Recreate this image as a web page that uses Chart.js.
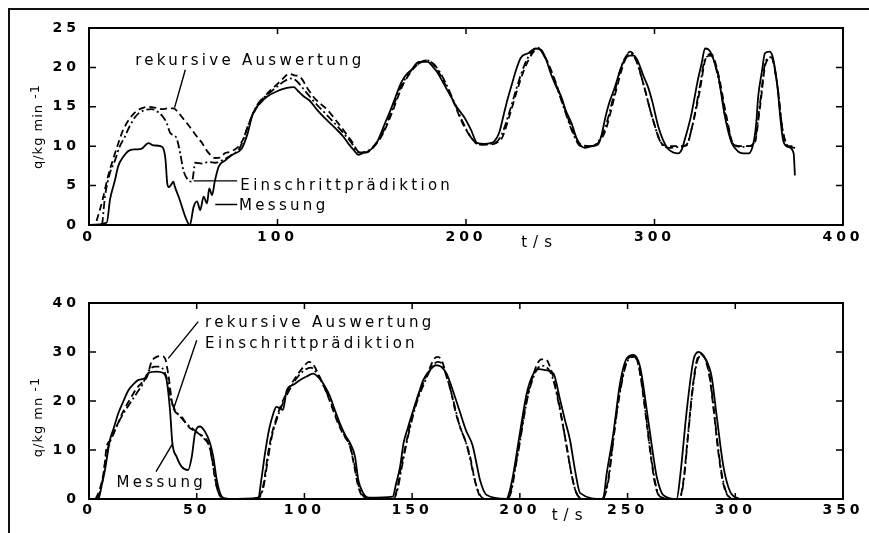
<!DOCTYPE html>
<html>
<head>
<meta charset="utf-8">
<script src="https://cdn.jsdelivr.net/npm/chart.js@4.4.1/dist/chart.umd.min.js"></script>
<style>
html,body{margin:0;padding:0;background:#fff;}
#wrap{position:relative;width:869px;height:533px;overflow:hidden;background:#fff;}
canvas{position:absolute;left:0;top:0;}
#frameTop{position:absolute;left:8px;top:8px;width:861px;height:2px;background:#111;}
#frameLeft{position:absolute;left:8px;top:8px;width:2px;height:525px;background:#111;}
</style>
</head>
<body>
<div id="wrap">
<canvas id="c1" width="869" height="533" style="width:869px;height:533px"></canvas>
<canvas id="c2" width="869" height="533" style="width:869px;height:533px"></canvas>
<div id="frameTop"></div><div id="frameLeft"></div>
</div>
<script>
// ---------- upper panel: t in s, q in kg/min ----------
const topXTicks = [0, 100, 200, 300, 400];
const topYTicks = [0, 5, 10, 15, 20, 25];

const topMessT = [0,9.4,11.2,13.8,15.4,18.3,21.8,25,28,31.5,34.2,38,40.5,41.5,42.3,43.5,44.8,45.5,48,51,53.5,55.5,57.3,59,60.8,62.6,63.8,65.3,66.7,68.8,72.3,76,81,84,87,91,94.5,100,105,108.7,110.5,114,117,121,125,128,131,135,138,140.5,143,145,147.7,151,153,155,157.5,160,163,165.5,168,171,175,179.6,182,185,188,192,195,199,202.6,206,210,213,215,217.6,220,222,224.5,226.6,229,233,237,240,242.5,245,248,250.5,253,256,259,263,267,270,272,273.6,276,279,282,284,287,289,291,294,296.6,299,302,304.5,307,310,312.6,314.5,316,318,319.7,321.5,323,325,326.8,328.5,330,332,334,335.5,337,339,341,344.5,347,350,352.5,354,355,357,358.6,361,362.5,364,365.5,366.5,368.4,371,373.8,374.5];
const topMessQ = [0,0.3,3.3,5.7,7.4,8.7,9.5,9.6,9.7,10.4,10.1,10,8.5,5.3,4.8,5.1,5.5,4.9,3.3,1.1,0,2.3,3,1.9,3.6,2.75,4.65,3.8,5.5,7.4,8.2,8.9,9.7,11.5,14.2,15.5,16.3,17,17.4,17.5,17.1,16.3,15.8,14.6,13.6,12.9,12.2,11.2,10.2,9.5,8.9,9.1,9.3,9.9,10.6,11.7,13.2,14.6,16.5,18,19,19.7,20.7,20.7,20.2,19.3,18,16.3,15,13.7,12.1,10.4,10.3,10.4,10.6,11.7,14,15.9,18,19.7,21.2,21.8,22.4,22.2,21,19.2,17.5,16.3,14.5,12.9,10.8,9.8,10,10.2,11.5,13.3,15.5,17.5,19.8,20.9,21.5,21.5,20.9,19,17.5,15.5,12.5,10.8,9.7,9.2,9.1,9.6,10.8,12.5,14.2,16.5,18.4,20.5,22.4,22.3,21.8,20.5,18.8,16.5,14.2,12,10.4,9.3,9.1,9.1,10.4,13,16.3,19.5,21.8,22,21.5,19.7,17,14.2,10.6,9.9,9.1,6.3];

const topEinT = [7,8.5,11,13.8,16,19,21.5,24.5,27,30,33.3,36.8,39,41.3,43,44.8,46.5,48.4,50,52.6,54.6,56.4,60,63.5,67,70.6,75,80,85,90,95,100,104,107,110,114,120,126,133,139,143,147,151,156,161,166,171,175,179,183,188,193,198,203,207,212,216,219,223,227,231,235,238,242,247,252,257,261,266,270,274,279,283,287,290,294,299,304,308,313,317,320,324,327,330,334,338,342,346,350,353,356,359,362,365,368,371,374.6];
const topEinQ = [0,3.6,6.5,8.2,9.8,11.2,12.5,13.7,14.3,14.6,14.7,14.3,13.8,12.9,11.7,11.4,11,9.1,7,5.7,5.5,7.9,7.8,8,7.9,8.2,8.8,9.8,13,15.5,16.6,17.6,18.3,18.6,18.3,17.2,15.5,14,12.2,10.5,9.2,9.3,10,11.8,14.8,17.8,19.6,20.5,20.9,20.4,18.6,16,13.2,11,10.2,10.3,10.5,11.5,14.3,17.5,20.3,22,22.5,21.2,18.3,14.8,11.5,10,10,10.5,12.5,17,20.5,21.8,21,18,13.5,10.2,9.8,9.9,10.2,12.5,17.5,21.2,21.5,18.5,13.5,10.2,9.9,10,10.5,15.5,20.8,21.3,18,12,10,9.8];

const topRekT = [4,7,10,13,15.6,18,21,24,26,29,31.5,35,38.6,42,44.8,47,49.3,52,54.6,57,60,62,64.4,67,70,72,75,79,82,85,90,95,100,103,106,109,112,116,120,126.5,133.5,140,143,147,151,156,161,166,171,175,179,183,188,193,198,203,207,212,216,219,223,227,231,235,238,242,247,252,257,261,266,270,274,279,283,287,290,294,299,304,308,313,317,320,324,327,330,334,338,342,346,350,353,356,359,362,365,368,371,374.6];
const topRekQ = [0.5,3,6.1,8.5,10.4,12,13.3,14.2,14.6,14.9,15,14.9,14.7,14.8,14.8,14.4,13.7,12.9,12.1,11.3,10.4,9.6,8.9,8.5,8.6,9.1,9.3,9.9,11,13,15.3,16.8,17.9,18.6,19.2,19,18.8,17.3,16,14.6,12.5,10.4,9.3,9.2,9.9,11.6,14.4,17.5,19.5,20.5,20.9,20.3,18.3,15.8,13,11,10.2,10.2,10.4,11,13.8,17,19.8,21.7,22.4,21.3,18.5,15,11.8,10.2,10,10.4,12,16.5,20,22,21.2,18,13.5,10.3,10,10,10.1,12.5,17,21,21.7,19,14,10.2,10,10,10.3,15,20.5,21.2,18,12,10,10];

// ---------- lower panel ----------
const botXTicks = [0, 50, 100, 150, 200, 250, 300, 350];
const botYTicks = [0, 10, 20, 30, 40];

const botMessT = [0,4.3,6,7.4,9.7,11.5,13.6,16,18.3,21,23,26,27.5,31.4,34.5,36,37.6,38.7,40.7,43,46,47.7,49.2,51.5,53.9,56.2,57.7,59.3,61.6,64,78.6,80,81.7,83.5,85.6,87,88.5,90,91.8,94.8,98,101,104,107,109.5,111.9,114,116.5,119,121.2,123.5,125,127.3,130,141,142.5,144.4,146,148,150.6,153,155.2,158.3,161,163.5,166,169,172,175,178,180,181.5,184.6,193.7,195.5,197,200,203.2,206.3,209,212,215.6,218.7,221,223.3,225.6,228,238.6,240.3,243.4,246.5,249.6,252.7,255.8,258.9,262,263.5,266.6,272.8,274.4,277.5,280.6,282.9,286,289,291.4,294.5,297.6,302];
const botMessQ = [0,0,3,5.9,12,14.5,17.5,20,22.2,23.6,24.3,24.7,25.7,26,25.7,24.3,18.2,11.4,8.6,6.6,5.9,8.6,13.4,14.8,13.7,11.4,8.6,3.9,0.5,0,0.3,4,9.3,14,17.5,18.8,18.5,18.2,22.2,23.3,24.3,25,25.6,24.6,23,20.9,18.3,15.4,13,11.4,8.6,3.9,1.2,0.3,0.5,3,6.6,11.4,14.5,18.2,21.5,24.3,26.3,27.3,27,25.6,22,18,14,11,7,3.9,0.8,0,2,5.2,13.4,21.6,25.6,26.5,26.3,25.6,20.2,16,12,5.9,1.2,0,5.2,13.4,23.6,28.7,29.4,27,18.2,8.6,4.6,0.8,0,4.6,18.2,28.4,30,28.7,25,16.8,6.6,1.5,0];

const botEinT = [4,6,8,10,13,16,19,22,25,27,29,31,33,35,36.5,38,39.5,42,45,49,53,56,57.5,59,61,65,76,
  79,81,83,85,87,89,91,94,97,100,103,106,109,112,115,118,121,123,125,127,130,
  141,143,145,147,149,152,155,158,160,162,164,166,168,170,172,175,177,179,181,184,190,
  194,196,198,200,202,204,206,208,210,212,214,216,218,220,222,224,226,229,238,
  239,241,243,245,247,249,251,253,255,257,259,261,263,265,270,
  274,276,278,280,282,284,286,288,290,292,294,296,299];
const botEinQ = [0,3,9,12,15,17.5,19.5,21.5,23.5,25.5,26.8,27,27,26,24,20.5,18.5,17,15.5,14,12.5,10.5,7,3,0.5,0,0,
  0.3,2.5,8,13,16,18.5,20.5,23,25,26.3,26.8,25.5,23,20,16.5,13.5,11,7.5,3,0.8,0,
  0,1.5,6,10.5,14.5,19.5,23,26,27.5,28,27.5,25,22,18.5,15,11.5,8,4,1.2,0,0,
  0,1.5,6.5,11.5,17,21.5,24.5,26.5,27.2,27,26,23.5,19.5,15,10,5,1.5,0,0,
  0.3,3.5,10.5,17.5,23,27,28.8,29,27.5,22.5,15.5,8.5,3,0.5,0,
  0,3.5,12.5,21.5,27.5,29.3,28.8,25.5,18.5,10.5,4.5,1.2,0];

const botRekT = [3,5,7,8.2,10,13.5,16,19.8,22,24.5,27,29,31.4,33.5,35.3,36.7,39,43,46,50.7,55.4,57,59.3,61.6,66,76,
  79,81,83,85,87,89,91,94,97,100,102,104,107,110,113,116,119,121,123,125,127,130,
  141,143,145,147,149,152,155,158,160,162,164,166,168,170,172,175,177,179,181,184,190,
  194,196,198,200,202,204,206,208,210,212,214,216,218,220,222,224,226,229,238,
  239,241,243,245,247,249,251,253,255,257,259,261,263,265,270,
  274,276,278,280,282,284,286,288,290,292,294,296,299];
const botRekQ = [0,2,6,10.7,12,15.5,18,20.9,22.5,23.7,25,28,29,29.2,28.7,25.7,18.8,16.8,14.8,13.4,11.4,8.6,2.5,0.3,0,0,
  0.5,3,9,13.5,16.5,19,21,23.5,25.5,27.2,28,27.5,25,22,18.5,15,12.5,11,7,2.5,0.5,0,
  0,2,7,11,15,20,23.5,26.5,28.5,29,28,25,22,18,15,11.5,8.5,4,1,0,0,
  0,2,7,12,17.5,22,25,27.5,28.5,28.5,27,24,20,15,10,5,1.5,0,0,
  0.5,4,11,18,23.5,27.5,29,29.2,27.5,22,15,8,2.5,0.5,0,
  0,4,13,22,28,29.5,28.5,25,18,10,4,1,0];

const seriesNames = ['Messung', 'Einschrittprädiktion', 'rekursive Auswertung'];

function pts(ts, qs) { return ts.map((t, i) => ({ x: t, y: qs[i] })); }

const TEXT_FONT = '15px "DejaVu Sans"';
const TICK_SPACING = '4px';

const decor = {
  id: 'decor',
  beforeUpdate(chart) { chart.ctx.letterSpacing = TICK_SPACING; },
  beforeDraw(chart) { chart.ctx.letterSpacing = TICK_SPACING; },
  afterDraw(chart, args, o) {
    const { ctx, chartArea: a, scales: { x, y } } = chart;
    ctx.save();
    ctx.strokeStyle = '#000';
    ctx.fillStyle = '#000';
    ctx.lineWidth = 2;
    ctx.strokeRect(a.left, a.top, a.width, a.height);
    // inward tick marks
    ctx.lineWidth = 1.5;
    ctx.beginPath();
    o.xTicks.slice(1, -1).forEach(v => {
      const px = x.getPixelForValue(v);
      ctx.moveTo(px, a.top); ctx.lineTo(px, a.top + 6);
      ctx.moveTo(px, a.bottom); ctx.lineTo(px, a.bottom - 6);
    });
    o.yTicks.slice(1, -1).forEach(v => {
      const py = y.getPixelForValue(v);
      ctx.moveTo(a.left, py); ctx.lineTo(a.left + 7, py);
      ctx.moveTo(a.right, py); ctx.lineTo(a.right - 7, py);
    });
    ctx.stroke();
    // leader lines
    ctx.lineWidth = 1.4;
    ctx.beginPath();
    o.leaders.forEach(l => {
      ctx.moveTo(x.getPixelForValue(l[0]), y.getPixelForValue(l[1]));
      ctx.lineTo(x.getPixelForValue(l[2]), y.getPixelForValue(l[3]));
    });
    ctx.stroke();
    // annotation texts
    ctx.font = TEXT_FONT;
    ctx.letterSpacing = '3.3px';
    ctx.textAlign = 'left';
    ctx.textBaseline = 'alphabetic';
    o.labels.forEach(l => ctx.fillText(l.text, x.getPixelForValue(l.t), y.getPixelForValue(l.q)));
    // axis label t/s
    ctx.letterSpacing = '6px';
    ctx.fillText('t/s', x.getPixelForValue(o.ts.t), a.bottom + o.ts.dy);
    // y title, rotated
    ctx.save();
    ctx.translate(o.yTitleX, (a.top + a.bottom) / 2 + o.yTitleShift);
    ctx.rotate(-Math.PI / 2);
    ctx.font = '13px "DejaVu Sans"';
    ctx.letterSpacing = '1px';
    const wm = ctx.measureText(o.yTitle[0]).width;
    const ws = ctx.measureText(o.yTitle[1]).width;
    const gap = 5;
    const x0 = -(wm + gap + ws) / 2;
    ctx.fillText(o.yTitle[0], x0, 6);
    ctx.fillText(o.yTitle[1], x0 + wm + gap, 3);
    ctx.restore();
    ctx.restore();
  }
};

function makeChart(id, cfg) {
  const ds = (name, t, q, dash) => ({
    label: name, data: pts(t, q), borderColor: '#000', borderWidth: 1.8,
    borderDash: dash, pointRadius: 0, fill: false, cubicInterpolationMode: 'monotone'
  });
  const tickFont = { family: 'DejaVu Sans', size: 14, weight: 'bold' };
  return new Chart(document.getElementById(id), {
    type: 'line',
    data: {
      datasets: [
        ds(seriesNames[0], cfg.mT, cfg.mQ, []),
        ds(seriesNames[1], cfg.eT, cfg.eQ, [8, 3, 2, 3]),
        ds(seriesNames[2], cfg.rT, cfg.rQ, [7, 4])
      ]
    },
    options: {
      responsive: false, animation: false, devicePixelRatio: 1,
      layout: { padding: cfg.padding },
      plugins: { legend: { display: false }, tooltip: { enabled: false }, decor: cfg.decor },
      scales: {
        x: {
          type: 'linear', min: cfg.xTicks[0], max: cfg.xTicks[cfg.xTicks.length - 1],
          afterBuildTicks: s => { s.ticks = cfg.xTicks.map(v => ({ value: v })); },
          afterFit: s => { s.height = 30; },
          grid: { display: false, drawTicks: false }, border: { display: false },
          ticks: { color: '#000', padding: cfg.xPad, maxRotation: 0, autoSkip: false,
                   font: tickFont, callback: v => String(v) }
        },
        y: {
          type: 'linear', min: cfg.yTicks[0], max: cfg.yTicks[cfg.yTicks.length - 1],
          afterBuildTicks: s => { s.ticks = cfg.yTicks.map(v => ({ value: v })); },
          afterFit: s => { s.width = 40; },
          grid: { display: false, drawTicks: false }, border: { display: false },
          ticks: { color: '#000', padding: 9, autoSkip: false,
                   font: tickFont, callback: v => String(v) }
        }
      }
    },
    plugins: [decor]
  });
}

makeChart('c1', {
  mT: topMessT, mQ: topMessQ, eT: topEinT, eQ: topEinQ, rT: topRekT, rQ: topRekQ,
  xTicks: topXTicks, yTicks: topYTicks, xPad: 4,
  padding: { left: 49, right: 26, top: 28, bottom: 278 },
  decor: {
    xTicks: topXTicks, yTicks: topYTicks,
    yTitle: ['q/kg min', '-1'], yTitleX: 36, yTitleShift: 0,
    ts: { t: 229.3, dy: 22 },
    labels: [
      { text: 'rekursive Auswertung', t: 24.5, q: 20.3 },
      { text: 'Einschrittprädiktion', t: 80.3, q: 4.4 },
      { text: 'Messung', t: 79.6, q: 1.9 }
    ],
    leaders: [[51.1, 19.7, 45.4, 14.9], [55.5, 5.6, 78.6, 5.6], [67, 2.6, 78.6, 2.6]]
  }
});

makeChart('c2', {
  mT: botMessT, mQ: botMessQ, eT: botEinT, eQ: botEinQ, rT: botRekT, rQ: botRekQ,
  xTicks: botXTicks, yTicks: botYTicks, xPad: 3,
  padding: { left: 49, right: 26, top: 303, bottom: 4 },
  decor: {
    xTicks: botXTicks, yTicks: botYTicks,
    yTitle: ['q/kg mn', '-1'], yTitleX: 36, yTitleShift: 16,
    ts: { t: 214.8, dy: 21 },
    labels: [
      { text: 'rekursive Auswertung', t: 53.9, q: 35.2 },
      { text: 'Einschrittprädiktion', t: 53.9, q: 30.8 },
      { text: 'Messung', t: 12.8, q: 2.5 }
    ],
    leaders: [[50.7, 36.2, 36.8, 28.7], [50, 32.4, 39.1, 18.2], [31.1, 5.6, 38.7, 11.2]]
  }
});
</script>
</body>
</html>
